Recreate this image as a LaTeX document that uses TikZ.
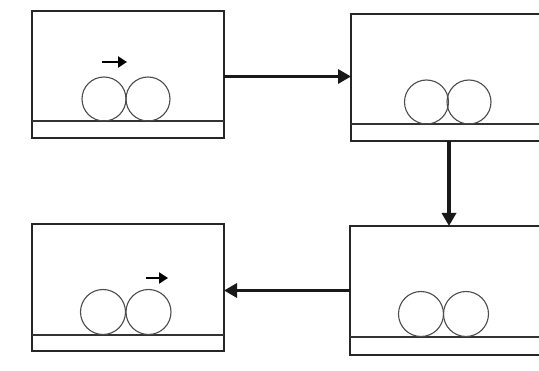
\documentclass[tikz,border=0pt]{standalone}
\usetikzlibrary{arrows.meta,calc}
\begin{document}
\begin{tikzpicture}[x=1pt,y=-1pt,
  stage/.style={draw=black!85,line width=2pt,rectangle,minimum width=192pt,minimum height=127pt,inner sep=0pt,outer sep=0pt},
  floorline/.style={draw=black!80,line width=1.3pt},
  ball/.style={draw=black!70,line width=1.1pt},
  conn/.style={draw=black!90,line width=3.5pt,-{Triangle[length=13pt,width=14pt]}},
  motion/.style={draw=black,line width=2.2pt,-{Triangle[length=9pt,width=11pt]}}]
\useasboundingbox (0,0) rectangle (539,371);
\clip (0,0) rectangle (539,371);
\fill[white] (0,0) rectangle (539,371);
% boxes
\node[stage] (TL) at (128,74.5) {};
\node[stage] (TR) at (447,77.5) {};
\node[stage,minimum height=129pt] (BR) at (446,290.5) {};
\node[stage] (BL) at (128,287.5) {};
% floors
\foreach \b/\d in {TL/17,TR/17,BR/18,BL/16}{
  \draw[floorline] ($(\b.south west)+(0,-\d)$) -- ($(\b.south east)+(0,-\d)$);
}
% balls
\draw[ball] ($(TL.south west)+(72,-39)$) circle[radius=22];
\draw[ball] ($(TL.south west)+(116,-39)$) circle[radius=22];
\draw[ball] ($(TR.south west)+(75.5,-39)$) circle[radius=22];
\draw[ball] ($(TR.south west)+(118,-39)$) circle[radius=22];
\draw[ball] ($(BR.south west)+(71,-41)$) circle[radius=22.5];
\draw[ball] ($(BR.south west)+(116,-41)$) circle[radius=22.5];
\draw[ball] ($(BL.south west)+(71,-39)$) circle[radius=22.5];
\draw[ball] ($(BL.south west)+(116.5,-39)$) circle[radius=22.5];
% motion arrows
\coordinate (m1s) at ($(TL.south west)+(70,-76)$);
\coordinate (m1e) at ($(TL.south west)+(95,-76)$);
\draw[motion] (m1s) -- (m1e);
\coordinate (m2s) at ($(BL.south west)+(114,-73)$);
\coordinate (m2e) at ($(BL.south west)+(136,-73)$);
\draw[motion] (m2s) -- (m2e);
% connectors
\draw[conn] ($(TL.east)+(0,2)$) -- ($(TL.east -| TR.west)+(0,2)$);
\draw[conn] ($(TR.south)+(2,0)$) -- ($(TR.south |- BR.north)+(2,0)$);
\draw[conn] (BR.west) -- (BR.west -| BL.east);
\end{tikzpicture}
\end{document}
